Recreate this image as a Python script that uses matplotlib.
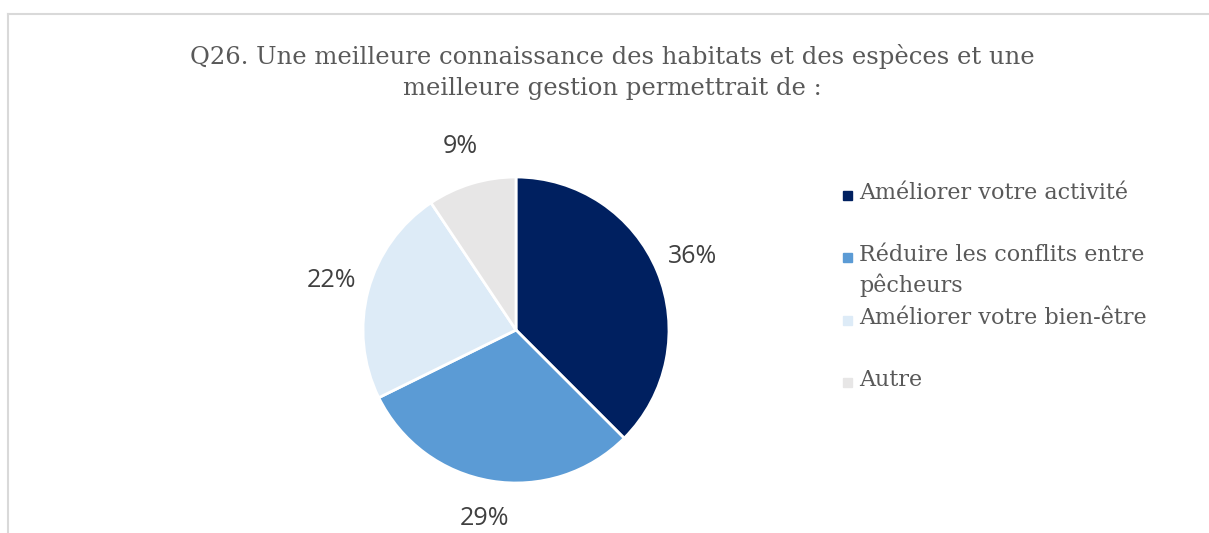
import matplotlib.pyplot as plt
from matplotlib.lines import Line2D
from matplotlib.patches import Rectangle

title = "Q26. Une meilleure connaissance des habitats et des espèces et une\nmeilleure gestion permettrait de :"
categories = ["Améliorer votre activité", "Réduire les conflits entre\npêcheurs",
              "Améliorer votre bien-être", "Autre"]
values = [36, 29, 22, 9]
colors = ["#002060", "#5b9bd5", "#ddebf7", "#e7e6e6"]

W, H = 1209, 533
fig = plt.figure(figsize=(W / 100, H / 100), dpi=100)

# frame of the chart area (top and left edges visible)
fig.add_artist(Line2D([8 / W, 1], [1 - 14 / H, 1 - 14 / H], color="#d9d9d9", lw=1.5))
fig.add_artist(Line2D([8 / W, 8 / W], [0, 1 - 14 / H], color="#d9d9d9", lw=1.5))

fig.text(612 / W, 1 - 72 / H, title, ha="center", va="center", fontsize=17.5,
         family="DejaVu Serif", color="#595959", linespacing=1.45)

cx, cy, r = 516, 330, 153
ax = fig.add_axes([(cx - r) / W, (H - cy - r) / H, 2 * r / W, 2 * r / H])
total = sum(values)
ax.pie(values, colors=colors, startangle=90, counterclock=False,
       wedgeprops=dict(edgecolor="white", linewidth=2),
       autopct=lambda p: "%d%%" % round(p * total / 100), pctdistance=1.25,
       textprops=dict(fontsize=18, color="#404040", family="Open Sans"))
ax.set_xlim(-1, 1)
ax.set_ylim(-1, 1)
ax.set_aspect("equal")
ax.axis("off")

# legend
ys = [195, 257, 320, 382]
for lab, col, y in zip(categories, colors, ys):
    fig.add_artist(Rectangle((843 / W, 1 - (y + 5) / H), 9 / W, 9 / H, color=col,
                             transform=fig.transFigure))
    fig.text(859 / W, 1 - (y - 13) / H, lab, ha="left", va="top", fontsize=16,
             family="DejaVu Serif", color="#595959", linespacing=1.42)

fig.savefig("out.png", dpi=100)
